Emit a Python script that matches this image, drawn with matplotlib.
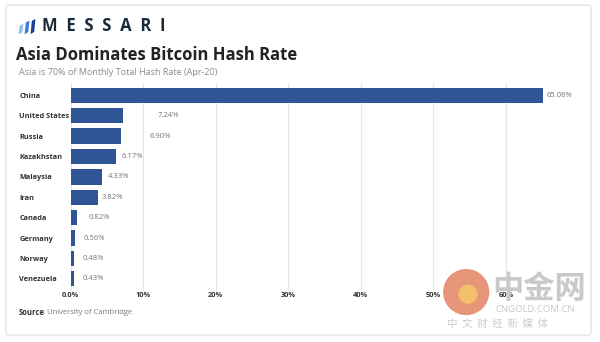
import matplotlib.pyplot as plt
from matplotlib.patches import FancyBboxPatch, Polygon, Ellipse

# hash rate share by country, Apr-20
countries = ["China", "United States", "Russia", "Kazakhstan", "Malaysia",
             "Iran", "Canada", "Germany", "Norway", "Venezuela"]
share = [65.08, 7.24, 6.90, 6.17, 4.33, 3.82, 0.82, 0.56, 0.48, 0.43]
label_pad = [3, 25, 21, 4, 4, 2.5, 8.5, 6, 6, 6]  # points right of the bar end
ticks = [0, 10, 20, 30, 40, 50, 60]
tick_labels = ["0.0%", "10%", "20%", "30%", "40%", "50%", "60%"]

bar_color = "#2f5597"
navy = "#1b2a3a"

plt.rcParams["font.family"] = ["Open Sans", "DejaVu Sans"]

fig = plt.figure(figsize=(6, 3.42), dpi=100)
fig.patch.set_facecolor("white")

# card outline
card = FancyBboxPatch((0.01, 0.02), 0.975, 0.965, boxstyle="round,pad=0,rounding_size=0.005",
                      transform=fig.transFigure, facecolor="white", edgecolor="#e3e3e3",
                      lw=1, zorder=-5)
fig.patches.append(card)

# logo mark
for i, dx in enumerate([0.0, 0.01, 0.02]):
    x0 = 0.031 + dx
    h = [0.03, 0.04, 0.045][i]
    pts = [(x0, 0.9), (x0 + 0.006, 0.9 + h * 0.15), (x0 + 0.008, 0.9 + h),
           (x0 + 0.002, 0.9 + h * 0.85)]
    fig.patches.append(Polygon(pts, closed=True, transform=fig.transFigure,
                               facecolor=["#8fbde8", "#3b7dd8", "#1d3f8f"][i], edgecolor="none"))
fig.text(0.07, 0.924, "M  E  S  S  A  R  I", fontsize=12, fontweight="bold", color=navy,
         va="center", ha="left")

fig.text(0.027, 0.84, "Asia Dominates Bitcoin Hash Rate", fontsize=12, fontweight="bold",
         color="#222222", va="center", ha="left")
fig.text(0.031, 0.788, "Asia is 70% of Monthly Total Hash Rate (Apr-20)", fontsize=6.5,
         color="#8a8a8a", va="center", ha="left")

ax = fig.add_axes([0.118, 0.149, 0.858, 0.608])
y = list(range(len(countries)))
ax.barh(y, share, height=0.75, color=bar_color, zorder=2)
for yi, v, pad in zip(y, share, label_pad):
    ax.annotate(f"{v:.2f}%", (v, yi), xytext=(pad, 0), textcoords="offset points",
                va="center", ha="left", fontsize=5.5, color="#777777")

ax.set_ylim(len(countries) - 0.4, -0.6)
ax.set_xlim(0, 71)
ax.set_xticks(ticks)
ax.set_xticklabels(tick_labels, fontsize=5.3, fontweight="bold", color="#333333")
ax.set_yticks(y)
ax.set_yticklabels(countries, fontsize=5.3, fontweight="bold", color="#333333")
for lbl in ax.get_yticklabels():
    lbl.set_horizontalalignment("left")
ax.tick_params(axis="y", length=0, pad=37)
ax.tick_params(axis="x", length=0, pad=0.5)
ax.xaxis.grid(True, color="#e6e6e6", lw=0.8, zorder=0)
for s in ax.spines.values():
    s.set_visible(False)

fig.text(0.031, 0.085, "Source", fontsize=5.5, fontweight="bold", color="#333333",
         va="center", ha="left")
fig.text(0.072, 0.085, ": University of Cambridge", fontsize=5.5, color="#777777",
         va="center", ha="left")

# watermark
fig.patches.append(Ellipse((0.777, 0.146), 0.077, 0.077 * 600 / 342,
                           transform=fig.transFigure, facecolor="#e58a6a", edgecolor="none",
                           alpha=0.9, zorder=5))
fig.patches.append(Ellipse((0.78, 0.14), 0.032, 0.032 * 600 / 342,
                           transform=fig.transFigure, facecolor="#f6c46a", edgecolor="none",
                           alpha=0.9, zorder=6))
cjk = ["Noto Sans CJK SC", "DejaVu Sans"]
fig.text(0.82, 0.155, "中金网", fontsize=22.5, fontweight="bold", color="#c9c9c9",
         family=cjk, va="center", ha="left", zorder=5)
fig.text(0.826, 0.094, "CNGOLD.COM.CN", fontsize=6.8, color="#c9c9c9", va="center",
         ha="left", zorder=5)
fig.text(0.745, 0.053, "中  文  财  经  新  媒  体", fontsize=7.5, color="#cccccc",
         family=cjk, va="center", ha="left", zorder=5)

fig.savefig("out.png", dpi=100)
